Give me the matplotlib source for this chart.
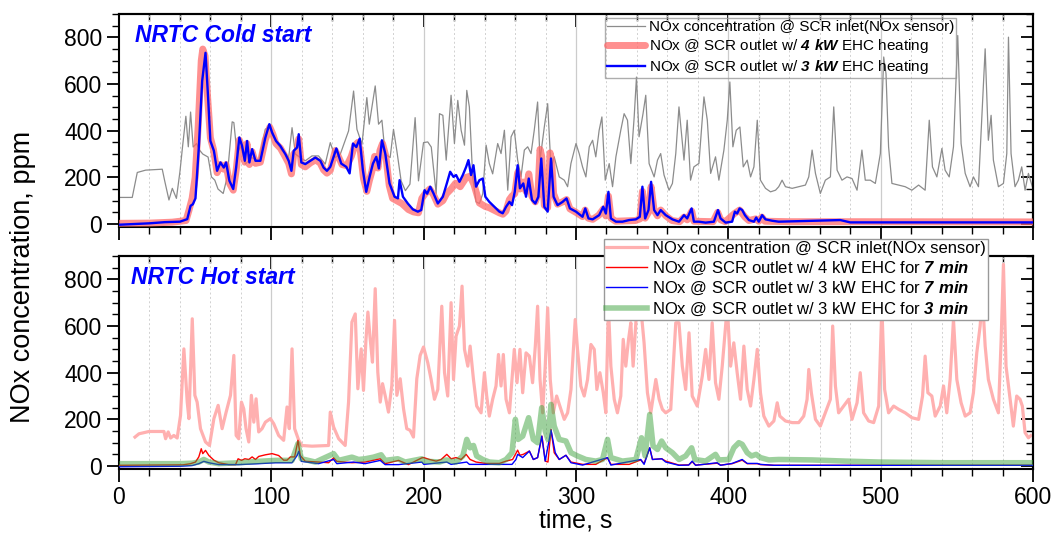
import matplotlib
matplotlib.use("Agg")
import matplotlib.pyplot as plt
from matplotlib.ticker import MultipleLocator, NullFormatter
import numpy as np

plt.rcParams['font.family'] = ['Liberation Sans', 'DejaVu Sans']
plt.rcParams['mathtext.fontset'] = 'custom'
plt.rcParams['mathtext.bf'] = 'Liberation Sans:bold:italic'
plt.rcParams['mathtext.rm'] = 'Liberation Sans'

# ---------------- data: cold start ----------------
cold_inlet = [(0,114),(8.7,114),(12,221),(17.5,231),(28.4,235),(30,185),(32.8,103),(35,153),(37.7,110),(40,224),(41.7,330),(43.9,462),(45.5,331),(47,480),(48.7,330),(50.9,345),(53,316),(55,300),(58.5,287),(60.7,202),(62.9,188),(65,150),(68.4,131),(71,200),(74.3,438),(75.4,435),(77.5,300),(80,335),(83,257),(87,285),(91.7,271),(96,406),(99.4,421),(102.7,356),(107,314),(111.4,285),(113.6,413),(115.8,300),(119,285),(122.3,271),(126.7,292),(131,292),(135.4,257),(138.7,349),(142,285),(145.3,300),(150.7,399),(154,570),(156.2,406),(159.5,342),(162.7,542),(164.3,428),(166,499),(168.2,592),(170.4,428),(172.6,445),(174.7,300),(178,285),(180.2,406),(182.4,314),(185.2,185),(188,143),(191,171),(194.4,456),(196.6,185),(199.9,349),(202.7,352),(205,330),(208.2,131),(210.4,473),(212.6,466),(214.8,274),(218,552),(220.2,345),(222.4,530),(224.6,402),(226.8,338),(228.3,573),(230,502),(232.2,200),(234.4,95),(236.6,88),(238.8,130),(241,338),(243.1,259),(245.3,215),(248.6,345),(250.8,302),(253,402),(255.2,145),(257.4,374),(259.5,402),(261.7,274),(263.9,202),(266.1,317),(268.3,331),(270.5,302),(272.6,402),(274.8,523),(276.4,274),(279.2,416),(281.4,516),(283.6,238),(285.7,288),(289,202),(292.3,188),(294.5,160),(296.7,260),(300,345),(302.1,302),(304.3,245),(306.5,202),(308.7,331),(310.9,359),(313,288),(315.2,402),(317,459),(319.2,188),(321.8,259),(324,160),(326.2,288),(329.4,402),(331.6,473),(333.8,445),(336,259),(338.2,459),(339.7,630),(341.4,374),(344,473),(345.8,552),(348,259),(351.3,202),(353.5,274),(355.6,302),(357.8,210),(361.1,145),(363.3,174),(365.5,302),(367.6,502),(370.9,274),(373,445),(375.2,188),(377.4,245),(380.7,260),(384,545),(386.2,445),(388.4,217),(391.6,288),(393.8,188),(397.1,317),(399.3,445),(401,609),(403,331),(405.2,402),(407.6,416),(409.8,245),(412.4,274),(414.6,202),(416.8,245),(419,445),(421.1,188),(424.4,153),(427.7,138),(431,145),(433.1,160),(435.3,188),(437.5,160),(441.9,153),(446.2,160),(450.6,167),(452.8,202),(455,317),(457.2,217),(460.4,131),(463.7,188),(467,202),(469.2,502),(471.4,231),(474.6,188),(477.9,202),(481.2,195),(484.5,145),(487.7,317),(489.9,188),(493.2,188),(496.5,174),(499.8,302),(502,716),(503.5,645),(505.2,331),(507.4,174),(511.8,167),(516.1,160),(520.5,145),(524.9,167),(529.2,145),(531.9,445),(534,245),(536.9,202),(540.2,324),(542.3,231),(545,202),(547.8,331),(550.6,808),(552.8,345),(555.5,217),(558.7,160),(560.9,202),(564.2,160),(568.6,751),(570.7,359),(572.5,466),(574,274),(577.3,160),(580.6,174),(582.8,302),(583.9,801),(585.6,302),(588.2,160),(590.4,188),(592.6,245),(594.8,145),(597,217),(600,150)]

cold_4kw = [(0,3),(20,4),(35,8),(44,15),(46,60),(48,110),(50,200),(52,420),(54,700),(55,750),(56.5,720),(58,560),(60,370),(62,320),(64.4,220),(66.6,255),(68.8,235),(70.3,255),(72.5,175),(75,145),(77,235),(79,360),(81,320),(82.6,265),(84,345),(85.6,255),(87.4,310),(89.6,260),(92.8,265),(96,360),(99,415),(101,385),(103,345),(106,325),(109,290),(111.4,260),(113.2,215),(114.7,300),(117,315),(118,365),(119.7,255),(122.3,245),(125.6,262),(129,275),(132,262),(134.3,232),(136.5,218),(138.7,230),(142,315),(144,290),(146.4,255),(149.6,250),(152.5,290),(154.7,335),(156.8,350),(158.4,315),(160.5,195),(162.7,140),(164.3,185),(166,225),(167.8,290),(170,240),(171.3,315),(173,345),(175.2,290),(177.4,165),(179.6,110),(182.4,100),(185.7,88),(190,62),(193.3,52),(196.6,48),(198.8,110),(201,130),(204,150),(206.5,125),(209.3,85),(212.6,100),(215,130),(218,150),(221,175),(224,160),(228,200),(230.5,205),(233,170),(236.6,90),(240.5,75),(243,70),(246,60),(249.7,48),(252,42),(254,55),(256.3,105),(258,120),(259.8,130),(261.7,220),(263.2,150),(265.4,180),(267.2,140),(269,215),(271,120),(273.3,95),(275,130),(276.4,320),(277.5,290),(279.2,80),(281.4,70),(283,305),(284,275),(285.3,130),(287.9,85),(291.2,95),(293.8,105),(296,65),(300,50),(304.3,32),(306,60),(308,25),(311,20),(315,38),(318,65),(319.6,35),(321.3,120),(323,25),(326,12),(334,14),(339,15),(342,22),(343.6,140),(345.4,25),(347.6,50),(349.3,160),(351.3,58),(353.5,35),(355.6,60),(359,35),(363,15),(368,10),(371,30),(373,18),(376,55),(377.4,12),(390,10),(393,50),(395,18),(398,10),(404,45),(407.4,60),(410.9,30),(413.5,15),(418,22),(420,12),(422,30),(424,12),(440,10),(480,10),(600,9)]

cold_3kw = [(0,-3),(10,0),(20,3),(30,8),(40,10),(44.8,21),(47,78),(48.5,85),(50.2,110),(52.4,328),(54.6,613),(56.8,734),(58.5,542),(60,356),(62.3,314),(64.4,228),(66.6,264),(68.8,242),(70.3,264),(72.5,185),(75,150),(76.9,242),(79,371),(80.8,335),(82.6,271),(84.1,356),(85.6,264),(87.4,321),(89.6,271),(92.8,271),(96.1,371),(98.7,428),(100.5,392),(103.1,356),(105.9,335),(109.2,300),(111.4,271),(113.2,228),(114.7,314),(116.9,328),(118,385),(119.7,264),(122.3,257),(125.6,271),(128.9,285),(132.2,271),(134.3,242),(136.5,228),(138.7,245),(142.7,324),(145.9,259),(149.2,245),(151.4,217),(153.6,345),(155.8,330),(158,366),(160.1,231),(162.3,138),(164.5,202),(166.7,259),(168.9,288),(170.6,238),(172.6,359),(174.8,302),(177.6,174),(180.9,117),(183.1,110),(184.2,188),(186.4,117),(189.6,88),(192.9,63),(196.2,53),(198.4,60),(200.6,145),(202.3,130),(204.3,160),(206.5,131),(209.3,88),(212.6,117),(215.2,174),(217.4,224),(219.6,202),(221.3,210),(223.5,181),(225.7,210),(227.9,245),(229.4,274),(231.1,210),(232.7,252),(234.4,160),(236.6,188),(238.8,195),(240.5,117),(243.1,95),(246.4,74),(249.7,53),(251.9,46),(254.1,74),(256.3,95),(258,81),(259.8,138),(261.7,252),(263.2,153),(265.4,174),(267.2,117),(269,195),(271.1,103),(273.3,88),(275.3,117),(277.2,281),(279.2,74),(281.4,53),(283.6,281),(285.3,117),(287.9,81),(291.2,95),(293.8,110),(296,67),(300,53),(304.3,31),(306.1,67),(308.2,24),(310.9,20),(315.2,38),(317.9,74),(319.6,45),(321.3,138),(322.9,24),(326.2,10),(330.5,10),(334.9,17),(339.3,20),(341.9,31),(343.6,160),(345.4,24),(347.6,60),(349.3,181),(351.3,60),(353.5,38),(355.6,60),(358.9,38),(363.3,20),(367.6,10),(370.9,38),(373,24),(375.9,67),(377.4,10),(380.7,10),(385.1,6),(390.5,10),(393.2,60),(394.9,24),(398.2,6),(402.5,10),(404.3,53),(405.8,45),(407.4,67),(409.1,60),(410.9,38),(413.5,17),(416.8,10),(418.3,28),(420,10),(422.2,38),(424.4,20),(428.8,14),(433.1,10),(473.5,17),(480,7),(600,7)]

# ---------------- data: hot start ----------------
hot_inlet = [(10.5,124),(13.1,138),(19.7,148),(29.5,148),(30.6,117),(32.3,146),(33.9,120),(36,131),(38.2,120),(40.4,217),(42.6,502),(44.8,274),(45.9,203),(48.1,631),(49.8,303),(51.3,274),(53.5,160),(56.8,103),(59.4,88),(62.3,203),(65.1,260),(67.7,160),(70.3,230),(73.2,303),(75.4,474),(76.9,131),(78.6,117),(80.4,274),(81.9,245),(83.4,160),(85.2,103),(86.9,303),(88.5,188),(90,288),(91.7,146),(93.9,160),(96.1,188),(99.4,203),(101.6,181),(104.8,131),(108.1,110),(110.3,253),(111.8,160),(113.6,502),(115.3,160),(118,110),(120.1,88),(126.7,85),(137.6,88),(138.7,231),(140.9,167),(144.2,117),(148.5,88),(150.7,274),(152.9,617),(155.1,652),(156.8,331),(159,502),(160.5,324),(162.1,538),(163.4,660),(164.9,545),(166.4,445),(168.2,760),(169.9,402),(171.5,274),(173,353),(174.7,303),(176.9,231),(179.1,345),(180.9,624),(182.4,303),(184.6,374),(186.8,245),(188.9,160),(191.1,153),(193.3,124),(195.5,374),(197.7,474),(199.9,510),(202.7,443),(204.9,371),(207.1,286),(209.3,328),(211.9,685),(213.7,400),(215.8,300),(218,700),(219.6,371),(221.3,557),(223.5,600),(225.2,771),(226.8,500),(229,428),(230.5,514),(232.7,371),(234.8,257),(237.7,228),(239.9,400),(241.4,300),(243.1,214),(245.3,286),(247.5,343),(249.1,478),(250.8,343),(252.3,478),(254.1,286),(256.3,228),(258,371),(259.5,500),(261.3,357),(263.2,500),(265,314),(267.2,485),(269.4,471),(271.5,357),(273.3,514),(274.8,685),(276.4,371),(278.1,228),(279.8,428),(281.4,678),(283.1,371),(285.1,228),(287.3,300),(290.1,243),(292.3,200),(294.5,228),(296.7,328),(299.5,628),(301,500),(303.2,343),(305.4,300),(307.6,371),(309.8,521),(312,500),(313.7,328),(315.7,400),(317.9,314),(319.6,228),(321.3,685),(322.9,428),(325.1,286),(327.2,228),(329.4,300),(331,543),(332.7,428),(334.5,543),(336,614),(337.5,428),(339.3,614),(341.4,760),(344.7,528),(346.9,314),(349.1,228),(352.4,371),(354.6,286),(356.7,243),(358.9,228),(362.2,243),(365.5,614),(367.6,614),(369.8,428),(372,328),(374.2,571),(376.3,300),(379.6,257),(382.9,385),(385.1,500),(387.3,371),(389.4,614),(391.6,357),(393.8,286),(396,428),(399.3,685),(401.5,428),(403.6,528),(405.8,400),(408,286),(410.2,514),(412.4,328),(414.6,257),(416.8,371),(419,500),(421.1,314),(423.3,214),(426.6,171),(429.9,193),(432.1,271),(433.8,214),(437.5,193),(441.9,186),(446.2,186),(449.5,214),(451.7,286),(452.8,414),(454.5,314),(457.2,200),(460.4,171),(463.7,228),(467,286),(468.5,600),(470.3,343),(472.4,228),(475.7,257),(479,286),(481.2,200),(484.5,271),(486.6,400),(488.8,228),(492.1,193),(495.4,186),(498.7,257),(500.8,685),(502.6,328),(505.2,228),(508.5,257),(511.8,243),(516.1,228),(520.5,207),(524.9,200),(527.5,300),(529.2,471),(531,314),(533.6,300),(535.8,214),(539.1,257),(541.3,343),(543.4,228),(545.6,371),(547.8,628),(550,371),(552.8,271),(555.5,214),(558.7,228),(560.9,314),(563.1,485),(565.3,600),(566.8,728),(568.6,514),(570.7,371),(574,286),(577.3,228),(579.1,543),(580.6,864),(582.3,428),(585,286),(587.1,171),(589.3,300),(591.5,286),(593,257),(594.8,143),(597,121),(598.5,130)]

hot_4kw_7min = [(0,3),(20,4),(42,5),(47,10),(50.2,17),(52.4,39),(54,74),(55,53),(56.8,67),(59,45),(62.3,25),(65.5,14),(72,6),(76.5,6),(78.2,31),(80.4,24),(82.6,31),(85.2,28),(87.4,39),(89.6,28),(91.7,41),(96.1,48),(100.5,53),(104.8,45),(108.1,25),(110.3,25),(112.5,39),(115.3,39),(117.5,110),(119,45),(122.3,20),(131,17),(137.6,14),(140.9,35),(143,20),(152.9,14),(161.6,17),(171.5,31),(174.7,10),(183.5,24),(190,6),(198.8,35),(200.1,36),(203.8,28),(208.2,21),(211.5,28),(215.2,50),(218,31),(221.3,36),(224.6,28),(227.9,50),(230.5,28),(234.4,17),(241,11),(249.7,11),(254.1,21),(258.4,28),(261.7,68),(263.2,46),(265.4,50),(269.4,64),(272,28),(274.8,36),(277.7,128),(279.8,21),(281.6,17),(283.6,157),(285.7,57),(289,28),(293.4,46),(296.7,17),(304.3,7),(313,7),(320.7,36),(322.9,7),(334.9,7),(342.5,26),(344.7,11),(348.4,78),(350.2,28),(356.3,31),(358.9,21),(367.6,4),(374,5),(376.3,18),(378.5,4),(392.7,12),(394.9,4),(402.5,10),(409.1,25),(412.4,10),(419,10),(421.1,6),(430,3),(600,3)]

hot_3kw_7min = [(0,-3),(20,-2),(40,-1),(48,2),(52.4,10),(55.7,20),(59,14),(65.5,6),(78.6,6),(91.7,10),(102.7,14),(113.6,14),(116.9,45),(118,63),(119.7,20),(131,10),(140.9,28),(143,10),(154,17),(161.6,10),(171.5,24),(174.7,6),(183.5,6),(198.8,17),(200.1,7),(215.2,17),(218,7),(228.3,17),(230,7),(258,7),(260.6,28),(261.7,50),(265,36),(269.4,64),(272,28),(274.8,36),(277.5,128),(279.8,21),(283.6,154),(286.4,57),(289,28),(293.4,46),(296.7,14),(304.3,4),(320.7,36),(322.9,4),(342.5,28),(344.7,7),(348.4,78),(350.2,28),(356.3,31),(358.9,17),(367.6,3),(374,4),(376.3,21),(378.5,3),(392.7,14),(394.9,3),(402.5,11),(409.1,28),(412.4,11),(419,11),(421.1,7),(430,3),(600,3)]

hot_3kw_3min = [(0,10),(40,10),(48,12),(52.4,17),(55.7,28),(59,17),(65.5,10),(78.6,14),(91.7,20),(102.7,24),(113.6,24),(117.5,96),(119.7,31),(128.9,17),(140.9,53),(144.2,24),(152.9,38),(157.3,28),(161.6,31),(167.1,38),(172.1,48),(174.7,24),(183,31),(187.9,17),(198.8,31),(200.1,21),(210.4,17),(214.8,26),(221.3,17),(225.7,43),(228.3,114),(230.5,78),(232.7,88),(234.8,43),(238.8,28),(243.1,17),(249.7,14),(254.1,28),(258,57),(260.2,200),(262,114),(265,128),(268.9,207),(272,114),(274.8,100),(277.5,250),(279.8,150),(281.6,114),(283.6,264),(285.7,171),(289,114),(293.4,107),(296.7,57),(301,43),(306.5,28),(313,21),(317.4,28),(320.7,114),(322.9,36),(330.5,21),(339.3,28),(343,121),(345.4,43),(348.4,221),(350.6,86),(353.5,71),(356.2,107),(358.9,78),(363.3,57),(367.6,28),(372,43),(375.9,78),(378.1,28),(385.1,21),(391.6,50),(393.8,26),(400.3,28),(403.6,78),(406.9,100),(409.1,93),(412.4,57),(415.2,43),(418.3,50),(421.1,36),(426.6,26),(433.1,28),(455,26),(476.8,21),(498.7,17),(542.3,14),(600,14)]

x_ticks = [0, 100, 200, 300, 400, 500, 600]
y_ticks = [0, 200, 400, 600, 800]

labels_cold = ["NOx concentration @ SCR inlet(NOx sensor)",
               r"NOx @ SCR outlet w/ $\mathbf{4\ kW}$ EHC heating",
               r"NOx @ SCR outlet w/ $\mathbf{3\ kW}$ EHC heating"]
labels_hot = ["NOx concentration @ SCR inlet(NOx sensor)",
              r"NOx @ SCR outlet w/ 4 kW EHC for $\mathbf{7\ min}$",
              r"NOx @ SCR outlet w/ 3 kW EHC for $\mathbf{7\ min}$",
              r"NOx @ SCR outlet w/ 3 kW EHC for $\mathbf{3\ min}$"]


def xy(series):
    a = np.array(series, dtype=float)
    return a[:, 0], a[:, 1]


fig = plt.figure(figsize=(10.53, 5.33), dpi=100)
ax1 = fig.add_axes([0.113, 0.574, 0.868, 0.3996])
ax2 = fig.add_axes([0.113, 0.120, 0.868, 0.3996])

TICK_FS = 16.5

for ax in (ax1, ax2):
    ax.set_xlim(0, 600)
    ax.set_ylim(-13, 900)
    ax.xaxis.set_major_locator(MultipleLocator(100))
    ax.xaxis.set_minor_locator(MultipleLocator(20))
    ax.yaxis.set_major_locator(MultipleLocator(200))
    ax.yaxis.set_minor_locator(MultipleLocator(50))
    ax.set_yticks(y_ticks)
    for g in range(20, 600, 20):
        if g % 100 == 0:
            ax.axvline(g, color='#cccccc', lw=0.9, zorder=0.5)
        else:
            ax.axvline(g, color='#d0d0d0', lw=0.7, ls=(0, (2, 2.5)), zorder=0.5)
    ax.tick_params(which='major', direction='out', length=9, width=1.3, labelsize=TICK_FS, pad=3)
    ax.tick_params(which='minor', direction='out', length=5, width=1.0)
    for s in ax.spines.values():
        s.set_linewidth(1.5)
    # mirrored inward ticks on top and right
    top = ax.secondary_xaxis('top')
    top.xaxis.set_major_locator(MultipleLocator(100))
    top.xaxis.set_minor_locator(MultipleLocator(20))
    top.tick_params(which='major', direction='in', length=9, width=1.3, labeltop=False)
    top.tick_params(which='minor', direction='in', length=5, width=1.0)
    top.xaxis.set_major_formatter(NullFormatter())
    right = ax.secondary_yaxis('right')
    right.yaxis.set_major_locator(MultipleLocator(200))
    right.yaxis.set_minor_locator(MultipleLocator(50))
    right.tick_params(which='major', direction='in', length=9, width=1.3, labelright=False)
    right.tick_params(which='minor', direction='in', length=5, width=1.0)
    right.yaxis.set_major_formatter(NullFormatter())
    for sa in (top, right):
        for s in sa.spines.values():
            s.set_linewidth(1.5)

ax1.set_xticks(x_ticks)
ax1.tick_params(labelbottom=False)
ax2.set_xticks(x_ticks)

LEG_KW = dict(frameon=True, fancybox=False, edgecolor='#999999',
              borderaxespad=0, handlelength=2.45, handletextpad=0.3, labelspacing=0.2,
              borderpad=0.12)

# cold start
t, v = xy(cold_inlet)
l1, = ax1.plot(t, v, color='#8c8c8c', lw=0.9, zorder=2)
t, v = xy(cold_4kw)
l2, = ax1.plot(t, v, color='#ff6b6b', lw=5, alpha=0.75, solid_capstyle='round', zorder=3)
t, v = xy(cold_3kw)
l3, = ax1.plot(t, v, color='#0000ff', lw=1.7, zorder=4)
leg1 = ax1.legend([l1, l2, l3], labels_cold, loc='upper left', bbox_to_anchor=(0.532, 0.981),
                  fontsize=11, **LEG_KW)
leg1.get_frame().set_facecolor('none')
leg1.get_frame().set_linewidth(1.0)
ax1.text(0.018, 0.90, "NRTC Cold start", transform=ax1.transAxes, color='#0000ff',
         fontsize=16.5, fontweight='bold', fontstyle='italic', va='center', ha='left')

# hot start
t, v = xy(hot_inlet)
m1, = ax2.plot(t, v, color='#ffb0b0', lw=2.3, zorder=2)
t, v = xy(hot_4kw_7min)
m2, = ax2.plot(t, v, color='#ff0000', lw=1.0, zorder=3)
t, v = xy(hot_3kw_7min)
m3, = ax2.plot(t, v, color='#0000ff', lw=1.0, zorder=4)
t, v = xy(hot_3kw_3min)
m4, = ax2.plot(t, v, color='#3da33d', lw=4, alpha=0.5, zorder=5)
leg2 = ax2.legend([m1, m2, m3, m4], labels_hot, loc='upper left', bbox_to_anchor=(0.531, 1.08),
                  framealpha=1, fontsize=12, **LEG_KW)
leg2.get_frame().set_linewidth(1.0)
leg2.set_zorder(10)
ax2.text(0.013, 0.897, "NRTC Hot start", transform=ax2.transAxes, color='#0000ff',
         fontsize=16.5, fontweight='bold', fontstyle='italic', va='center', ha='left')

ax2.set_xlabel("time, s", fontsize=18, labelpad=0)
fig.text(0.022, 0.48, "NOx concentration, ppm", rotation=90, fontsize=19.5,
         va='center', ha='center')

fig.savefig("out.png", dpi=100)
